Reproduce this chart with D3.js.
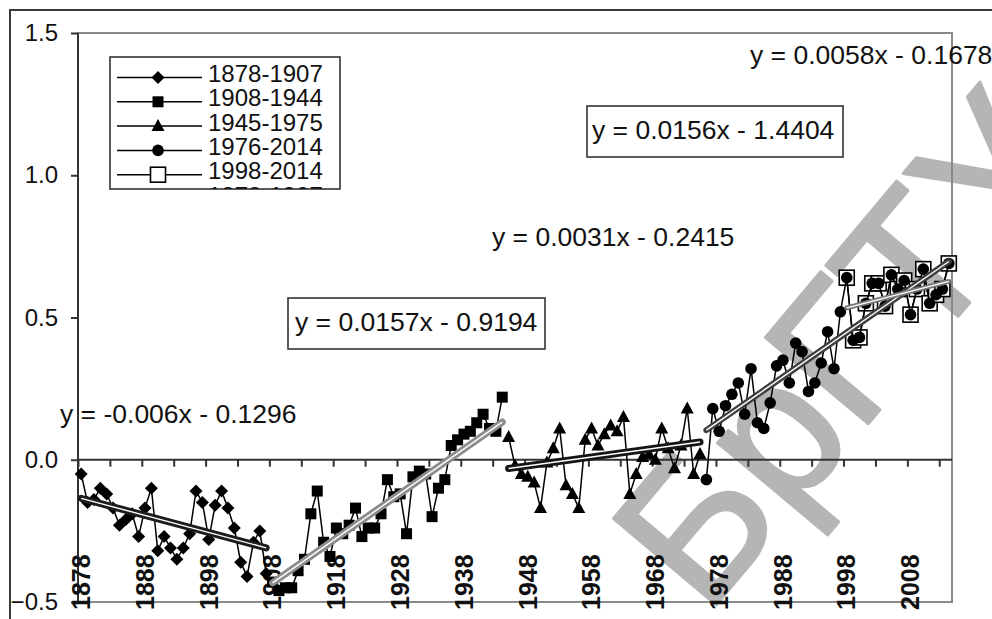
<!DOCTYPE html>
<html>
<head>
<meta charset="utf-8">
<script src="https://cdn.jsdelivr.net/npm/d3@7"></script>
<style>
  html, body { margin: 0; padding: 0; background: #fff; }
  svg { display: block; }
  text { font-family: "Liberation Sans", Arial, sans-serif; }
</style>
</head>
<body>
<svg id="chart" width="992" height="619"></svg>
<script>
// ---- data -------------------------------------------------------------
const firstYear = 1878;
const lastYear = 2014;
const years = d3.range(firstYear, lastYear + 1);

const yTicks = [-0.5, 0.0, 0.5, 1.0, 1.5];
const xTickLabels = [1878, 1888, 1898, 1908, 1918, 1928, 1938, 1948, 1958, 1968, 1978, 1988, 1998, 2008];

// annual temperature anomalies, by period
const anom1878 = [-0.05, -0.15, -0.14, -0.10, -0.12, -0.17, -0.23, -0.21, -0.19, -0.27,
                  -0.17, -0.10, -0.32, -0.27, -0.31, -0.35, -0.31, -0.26, -0.11, -0.15,
                  -0.28, -0.16, -0.11, -0.17, -0.24, -0.36, -0.41, -0.29, -0.25, -0.40];
const anom1908 = [-0.43, -0.46, -0.45, -0.45, -0.39, -0.35, -0.19, -0.11, -0.29, -0.34,
                  -0.24, -0.26, -0.23, -0.17, -0.27, -0.24, -0.24, -0.19, -0.07, -0.13,
                  -0.12, -0.26, -0.06, -0.04, -0.05, -0.20, -0.10, -0.07, 0.05, 0.07,
                  0.09, 0.10, 0.13, 0.16, 0.11, 0.10, 0.22];
const anom1945 = [0.08, -0.02, -0.05, -0.06, -0.08, -0.17, -0.01, 0.04, 0.11, -0.09,
                  -0.12, -0.17, 0.07, 0.11, 0.05, 0.09, 0.12, 0.10, 0.15, -0.12,
                  -0.05, 0.01, 0.02, 0.00, 0.11, 0.04, -0.03, 0.05, 0.18, -0.05, 0.02];
const anom1976 = [-0.07, 0.18, 0.10, 0.19, 0.23, 0.27, 0.16, 0.32, 0.13, 0.11,
                  0.20, 0.33, 0.35, 0.27, 0.41, 0.38, 0.24, 0.27, 0.34, 0.45,
                  0.32, 0.52, 0.64, 0.42, 0.43, 0.55, 0.62, 0.62, 0.54, 0.65,
                  0.60, 0.63, 0.51, 0.60, 0.67, 0.55, 0.58, 0.60, 0.69];

// linear trends y = slope * n + intercept, n = year - 1877
const trendOrigin = 1877;
const periods = [
  { name: "1878-1907", start: 1878, end: 1907, values: anom1878, slope: -0.006, intercept: -0.1296, label: "y = -0.006x - 0.1296" },
  { name: "1908-1944", start: 1908, end: 1944, values: anom1908, slope: 0.0157, intercept: -0.9194, label: "y = 0.0157x - 0.9194" },
  { name: "1945-1975", start: 1945, end: 1975, values: anom1945, slope: 0.0031, intercept: -0.2415, label: "y = 0.0031x - 0.2415" },
  { name: "1976-2014", start: 1976, end: 2014, values: anom1976, slope: 0.0156, intercept: -1.4404, label: "y = 0.0156x - 1.4404" },
  { name: "1998-2014", start: 1998, end: 2014, values: anom1976.slice(1998 - 1976), slope: 0.0058, intercept: -0.1678, label: "y = 0.0058x - 0.1678" }
];
const legendNames = ["1878-1907", "1908-1944", "1945-1975", "1976-2014", "1998-2014", "1878-1907"];

// ---- styles ----------------------------------------------------------
const styles = {
  "1878-1907": { marker: "diamond", trendColor: "#1c1c1c", trendWidth: 7, eq: { x: 60, y: 423, box: null } },
  "1908-1944": { marker: "square", trendColor: "#8c8c8c", trendWidth: 7, eq: { x: 295, y: 331, box: [288, 298, 257, 51] } },
  "1945-1975": { marker: "triangle", trendColor: "#151515", trendWidth: 7, eq: { x: 492, y: 246, box: null } },
  "1976-2014": { marker: "circle", trendColor: "#3e3e3e", trendWidth: 6, eq: { x: 592, y: 139, box: [587, 106, 256, 51] } },
  "1998-2014": { marker: "open", trendColor: "#777777", trendWidth: 5, eq: { x: 750, y: 64, box: null } }
};

const svg = d3.select("#chart");
const plot = { l: 78, r: 952, t: 33, b: 602 };

const x = d3.scaleBand().domain(years).range([plot.l, plot.r]).padding(0);
const cx = yr => x(yr) + x.bandwidth() / 2;
const xIndex = d3.scaleLinear().domain([0, years.length]).range([plot.l, plot.r]);
const y = d3.scaleLinear().domain([-0.5, 1.5]).range([plot.b, plot.t]);

// ---- background watermark ---------------------------------------------
svg.append("text")
  .attr("transform", "translate(706,617) rotate(-50)")
  .attr("font-size", 195)
  .attr("fill", "#b5b5b5")
  .attr("stroke", "#b5b5b5")
  .attr("stroke-width", 3)
  .attr("stroke-linejoin", "round")
  .text("БрГТУ");

// outer frame
svg.append("rect")
  .attr("x", 10).attr("y", 10).attr("width", 1000).attr("height", 700)
  .attr("fill", "none").attr("stroke", "#3a3a3a").attr("stroke-width", 2);

// plot area border
svg.append("rect")
  .attr("x", plot.l).attr("y", plot.t)
  .attr("width", plot.r - plot.l).attr("height", plot.b - plot.t)
  .attr("fill", "none").attr("stroke", "#8a8a8a").attr("stroke-width", 2);

// ---- axes ------------------------------------------------------------
const yAxis = svg.append("g")
  .attr("transform", `translate(${plot.l},0)`)
  .call(d3.axisLeft(y).tickValues(yTicks).tickSize(7).tickPadding(13).tickFormat(d3.format(".1f")));
yAxis.select(".domain").attr("stroke", "#333").attr("stroke-width", 2).attr("d", `M0,${plot.t}V${plot.b}`);
yAxis.selectAll(".tick line").attr("stroke", "#333").attr("stroke-width", 2);
yAxis.selectAll(".tick text").attr("font-size", 24).attr("fill", "#111")
  .attr("font-family", '"Liberation Sans", Arial, sans-serif');

const xAxis = svg.append("g")
  .attr("transform", `translate(0,${y(0)})`)
  .call(d3.axisBottom(xIndex).tickValues(d3.range(0, years.length, 5)).tickSize(7).tickFormat(""));
xAxis.select(".domain").attr("stroke", "#333").attr("stroke-width", 2).attr("d", `M${plot.l},0H${plot.r}`);
xAxis.selectAll(".tick line").attr("stroke", "#333").attr("stroke-width", 2);

// year labels along the bottom, reading upward
svg.append("g").selectAll("text")
  .data(xTickLabels)
  .join("text")
  .attr("transform", d => `translate(${cx(d)},610) rotate(-90)`)
  .attr("dy", "0.35em")
  .attr("font-size", 25)
  .attr("font-weight", "bold")
  .attr("fill", "#111")
  .text(d => d);

// ---- markers ---------------------------------------------------------
function drawMarker(g, kind) {
  if (kind === "diamond") {
    g.append("path").attr("d", "M0,-6.5L6.5,0L0,6.5L-6.5,0Z").attr("fill", "#000");
  } else if (kind === "square") {
    g.append("rect").attr("x", -5.5).attr("y", -5.5).attr("width", 11).attr("height", 11).attr("fill", "#000");
  } else if (kind === "triangle") {
    g.append("path").attr("d", "M0,-7L6.5,5L-6.5,5Z").attr("fill", "#000");
  } else if (kind === "circle") {
    g.append("circle").attr("r", 5.8).attr("fill", "#000");
  } else if (kind === "open") {
    g.append("rect").attr("x", -7.5).attr("y", -7.5).attr("width", 15).attr("height", 15)
      .attr("fill", "#fff").attr("stroke", "#000").attr("stroke-width", 1.6);
  }
}

const line = d3.line().x(d => cx(d.year)).y(d => y(d.v));
const dataLayer = svg.append("g");

// the 1998-2014 squares go underneath the 1976-2014 circles
const drawOrder = ["1998-2014", "1878-1907", "1908-1944", "1945-1975", "1976-2014"];
drawOrder.forEach(name => {
  const p = periods.find(q => q.name === name);
  const pts = p.values.map((v, i) => ({ year: p.start + i, v }));
  const g = dataLayer.append("g");
  g.append("path").datum(pts).attr("d", line)
    .attr("fill", "none").attr("stroke", "#000").attr("stroke-width", 1.5);
  g.selectAll("g.m").data(pts).join("g").attr("class", "m")
    .attr("transform", d => `translate(${cx(d.year)},${y(d.v)})`)
    .each(function () { drawMarker(d3.select(this), styles[name].marker); });
});

// ---- trend lines -----------------------------------------------------
const trendLayer = svg.append("g");
periods.forEach(p => {
  const st = styles[p.name];
  const ends = [p.start, p.end].map(yr => ({ year: yr, v: p.slope * (yr - trendOrigin) + p.intercept }));
  trendLayer.append("path").datum(ends).attr("d", line)
    .attr("stroke", st.trendColor).attr("stroke-width", st.trendWidth)
    .attr("stroke-linecap", "round").attr("fill", "none");
  trendLayer.append("path").datum(ends).attr("d", line)
    .attr("stroke", "#fff").attr("stroke-width", 1.4).attr("fill", "none");
});

// ---- trend equations -------------------------------------------------
periods.forEach(p => {
  const eq = styles[p.name].eq;
  if (eq.box) {
    svg.append("rect")
      .attr("x", eq.box[0]).attr("y", eq.box[1]).attr("width", eq.box[2]).attr("height", eq.box[3])
      .attr("fill", "#fff").attr("stroke", "#333").attr("stroke-width", 1.6);
  }
  svg.append("text").attr("x", eq.x).attr("y", eq.y)
    .attr("font-size", 26.5).attr("fill", "#111").text(p.label);
});

// ---- legend (last entry runs past the box and is clipped) ------------
const lg = { x: 110, y: 57, w: 230, h: 132 };
svg.append("clipPath").attr("id", "legend-clip")
  .append("rect").attr("x", lg.x).attr("y", lg.y).attr("width", lg.w).attr("height", lg.h);
svg.append("rect").attr("x", lg.x).attr("y", lg.y).attr("width", lg.w).attr("height", lg.h)
  .attr("fill", "#fff").attr("stroke", "#333").attr("stroke-width", 1.6);
const legend = svg.append("g").attr("clip-path", "url(#legend-clip)");
const legendMarkers = ["diamond", "square", "triangle", "circle", "open", "diamond"];
legendNames.forEach((name, i) => {
  const ry = 77.5 + i * 24.3;
  const row = legend.append("g");
  row.append("line").attr("x1", 117).attr("x2", 202).attr("y1", ry).attr("y2", ry)
    .attr("stroke", "#000").attr("stroke-width", 1.5);
  drawMarker(row.append("g").attr("transform", `translate(158,${ry})`), legendMarkers[i]);
  row.append("text").attr("x", 208).attr("y", ry + 4.5).attr("font-size", 24).attr("fill", "#111").text(name);
});
</script>
</body>
</html>
